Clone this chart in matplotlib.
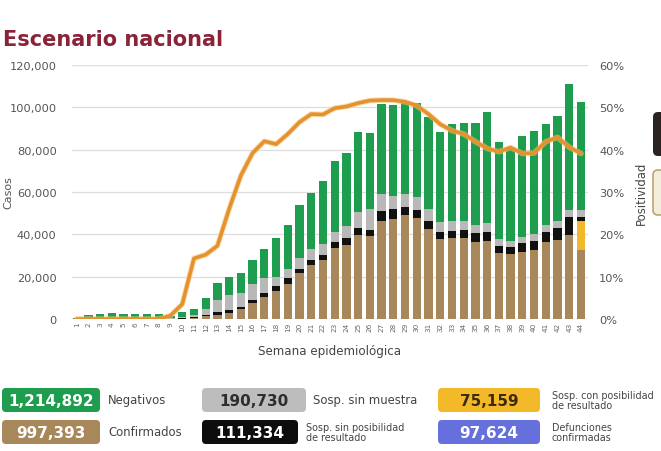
import numpy as np
import matplotlib
matplotlib.use("Agg")
import matplotlib.pyplot as plt
from matplotlib.patches import FancyBboxPatch
from matplotlib.ticker import FuncFormatter

plt.rcParams['font.family'] = ['DejaVu Sans']

# semanas epidemiologicas
weeks = list(range(1, 45))

# casos por semana (segmentos de cada barra)
confirmados = [0, 0, 0, 0, 0, 0, 0, 0, 0, 200, 500, 1300, 2000, 2800, 4900, 7400, 10500,
               13400, 16500, 21700, 25700, 27900, 33400, 35100, 39700, 39100, 46300, 47200,
               49100, 47700, 42500, 37800, 38300, 38100, 36500, 36900, 31200, 30600, 31800,
               32600, 36200, 37500, 39700, 32800]
sosp_con_posib = [0] * 43 + [13500]
sosp_sin_posib = [0, 0, 0, 0, 0, 0, 0, 0, 0, 100, 300, 700, 1100, 1600, 900, 1600, 1800,
                  2000, 2700, 1900, 2000, 2500, 2800, 3200, 3100, 3100, 4900, 4800, 3700,
                  3800, 3800, 3200, 3400, 3900, 4100, 4100, 3100, 3400, 4100, 4300, 4800,
                  5300, 8500, 2100]
sosp_sin_muestra = [0, 0, 0, 0, 0, 0, 0, 0, 300, 800, 1200, 2700, 6000, 6900, 6600, 7500,
                    7100, 4400, 4400, 5400, 5300, 5000, 5100, 5800, 7600, 9800, 8000, 6300,
                    6200, 6300, 5500, 5000, 4400, 4100, 4000, 4400, 3300, 3000, 2800, 3300,
                    3400, 3700, 3500, 3300]
negativos = [400, 2000, 2500, 3000, 2500, 2500, 2500, 2500, 1200, 2200, 2800, 5100, 7800,
             8500, 9500, 11500, 13600, 18500, 20800, 24700, 26700, 29600, 33500, 34500,
             38100, 35900, 42400, 42700, 44000, 44200, 43500, 42200, 45900, 46500, 48000,
             52600, 45900, 43600, 47900, 48800, 47600, 49300, 59300, 50700]

# positividad (%)
positividad = [0, 0, 0, 0, 0, 0, 0, 0, 0.8, 3.5, 14.3, 15.2, 17.3, 26.0, 33.9, 39.2, 42.0,
               41.3, 43.7, 46.5, 48.4, 48.3, 49.8, 50.2, 51.0, 51.6, 51.7, 51.7, 51.3, 50.4,
               48.4, 46.0, 44.5, 43.7, 41.9, 40.3, 39.5, 40.5, 39.1, 39.2, 41.9, 42.9, 40.6,
               39.1]

# cuadros de resumen
box_values = ['1,214,892', '190,730', '75,159', '997,393', '111,334', '97,624']
box_labels = ['Negativos', 'Sosp. sin muestra', 'Sosp. con posibilidad\nde resultado',
              'Confirmados', 'Sosp. sin posibilidad\nde resultado', 'Defunciones\nconfirmadas']
box_colors = ['#1f9d4e', '#bdbdbd', '#f4b929', '#a8875b', '#0d0d0d', '#6670dc']
box_text_colors = ['white', '#2e2e2e', '#3a2a10', 'white', 'white', 'white']

c_green = '#1f9d4e'
c_gray = '#b8b8b8'
c_black = '#111111'
c_brown = '#a8875b'
c_yellow = '#f2b72a'
c_line = '#e6922c'

fig = plt.figure(figsize=(6.61, 4.52), dpi=100)
fig.patch.set_facecolor('white')

ax = fig.add_axes([72 / 661, 1 - 320 / 452, (588 - 72) / 661, (320 - 66) / 452])

x = np.array(weeks)
w = 0.7
bottom = np.zeros(len(weeks))
for vals, col in [(confirmados, c_brown), (sosp_con_posib, c_yellow),
                  (sosp_sin_posib, c_black), (sosp_sin_muestra, c_gray),
                  (negativos, c_green)]:
    v = np.array(vals, dtype=float)
    ax.bar(x, v, w, bottom=bottom, color=col, zorder=3, linewidth=0)
    bottom += v

ax.set_xlim(0.6, 44.6)
ax.set_ylim(0, 120000)
ax.set_yticks(np.arange(0, 120001, 20000))
ax.yaxis.set_major_formatter(FuncFormatter(lambda v, p: f'{int(v):,}'))
ax.grid(axis='y', color='#dddddd', linewidth=0.9, zorder=0)
for s in ax.spines.values():
    s.set_visible(False)
ax.axhline(0, color='#cccccc', linewidth=0.9, zorder=2)
ax.tick_params(axis='y', length=0, pad=11, labelsize=8.2, labelcolor='#555555')
ax.set_xticks(x)
ax.set_xticklabels([str(k) for k in weeks], rotation=90, fontsize=5.2, color='#666666')
ax.tick_params(axis='x', length=0, pad=2)
ax.set_ylabel('Casos', fontsize=8, color='#555555', labelpad=2)
ax.yaxis.set_label_coords(-0.114, 0.5)
ax.set_xlabel('Semana epidemiológica', fontsize=8.6, color='#444444', labelpad=9)

ax2 = ax.twinx()
ax2.plot(x, positividad, color='#f2c07a', linewidth=4.0, alpha=0.6,
         solid_joinstyle='round', solid_capstyle='round', zorder=4)
ax2.plot(x, positividad, color=c_line, linewidth=2.6,
         solid_joinstyle='round', solid_capstyle='round', zorder=5)
ax2.set_ylim(0, 60)
ax2.set_yticks(np.arange(0, 61, 10))
ax2.yaxis.set_major_formatter(FuncFormatter(lambda v, p: f'{int(v)}%'))
for s in ax2.spines.values():
    s.set_visible(False)
ax2.tick_params(axis='y', length=0, pad=8, labelsize=8.2, labelcolor='#555555')
ax2.set_ylabel('Positividad', fontsize=8.4, color='#444444', labelpad=3)
ax2.yaxis.set_label_coords(1.09, 0.5)

# capa de pixeles para titulo y cuadros
ov = fig.add_axes([0, 0, 1, 1], zorder=-1)
ov.set_xlim(0, 661)
ov.set_ylim(452, 0)
ov.axis('off')

ov.text(3, 46, 'Escenario nacional', fontsize=15, fontweight='bold', color='#8a2338',
        ha='left', va='baseline')

box_x = [0, 200, 436]
box_w = [[102, 108, 106], [102, 100, 106]]
lab_x = [[108, 313, 552], [108, 306, 552]]
row_y = [389, 421]
for i in range(6):
    r, c = divmod(i, 3)
    bx = box_x[c]
    bw = box_w[r][c]
    ov.add_patch(FancyBboxPatch((bx + 2, row_y[r]), bw - 4, 24,
                                boxstyle='round,pad=0,rounding_size=4',
                                facecolor=box_colors[i], edgecolor='none'))
    ov.text(bx + bw / 2, row_y[r] + 12.5, box_values[i], fontsize=11, fontweight='bold',
            color=box_text_colors[i], ha='center', va='center')
    lab = box_labels[i]
    fs = 8.4 if '\n' not in lab else 6.9
    ov.text(lab_x[r][c], row_y[r] + 12, lab, fontsize=fs,
            color='#444444', ha='left', va='center', linespacing=1.05)

# cuadros cortados en el borde derecho
ov.add_patch(FancyBboxPatch((653, 113), 20, 44, boxstyle='round,pad=0,rounding_size=5',
                            facecolor='#2b2222', edgecolor='none'))
ov.add_patch(FancyBboxPatch((653, 171), 20, 45, boxstyle='round,pad=0,rounding_size=5',
                            facecolor='#f3eddc', edgecolor='#b9a66e', linewidth=1.2))

fig.savefig('out.png', dpi=100)
